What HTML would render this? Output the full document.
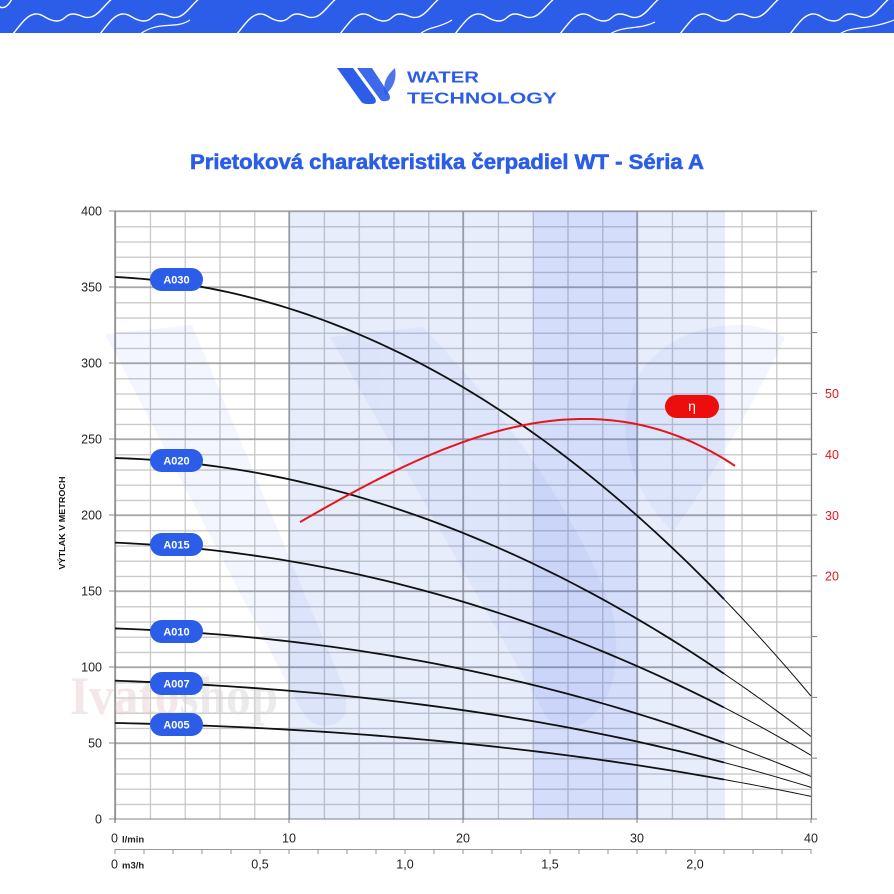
<!DOCTYPE html>
<html><head><meta charset="utf-8"><style>
html,body{margin:0;padding:0;background:#fff;}
svg{display:block;}
.sans{font-family:"Liberation Sans",sans-serif;}
</style></head><body>
<svg id="s" class="sans" width="894" height="894" viewBox="0 0 894 894" xmlns="http://www.w3.org/2000/svg" font-family="Liberation Sans, sans-serif">
<defs>
<pattern id="grid" x="115" y="211" width="34.8" height="15.2" patternUnits="userSpaceOnUse">
<path d="M0.6,0 V15.2 M0,0.6 H34.8" stroke="#c4c4c4" stroke-width="1.2" fill="none"/>
</pattern>
<path id="wv" d="M0,34 C8,24 14,15 22,14 C30,13 34,21 44,21 C52,21 52,14 60,14 C68,14 70,19 78,17 C86,15 92,4 100,-2" fill="none" stroke="#fff" stroke-width="1.4"/>
</defs>
<rect width="894" height="894" fill="#fff"/>
<!-- header -->
<rect x="0" y="0" width="894" height="33" fill="#2b5de8"/>
<path d="M-2,6 C4,10 8,6 12,-1" fill="none" stroke="#fff" stroke-width="1.4"/>
<use href="#wv" x="13" y="0"/>
<use href="#wv" x="100" y="0"/>
<use href="#wv" x="237" y="0"/>
<use href="#wv" x="340" y="0"/>
<use href="#wv" x="455" y="0"/>
<use href="#wv" x="560" y="0"/>
<use href="#wv" x="680" y="0"/>
<use href="#wv" x="790" y="0"/>
<path d="M140,34 C160,20 175,30 190,20 M420,34 C430,26 440,28 452,20 M610,34 C625,25 640,30 655,22 M840,34 C850,26 870,30 894,20" fill="none" stroke="#fff" stroke-width="1.2"/>

<!-- logo -->
<g fill="#2b5de8">
<path d="M337,68 L353,68 L375,98 Q378,104 371,104 L367,104 Q362,104 360,100 Z"/>
<path d="M357,68 L372,68 L389,94 Q392,100 386,101 Q381,102 379,98 Z" opacity="0.92"/>
<path d="M395,68 Q398,84 385,95 Q381,80 395,68 Z" opacity="0.85"/>
</g>
<text x="407" y="82.5" font-size="15.5" font-weight="bold" fill="#2b5de8" textLength="72" lengthAdjust="spacingAndGlyphs">WATER</text>
<text x="407" y="103.5" font-size="15.5" font-weight="bold" fill="#2b5de8" textLength="150" lengthAdjust="spacingAndGlyphs">TECHNOLOGY</text>

<!-- title -->
<text x="190" y="169" font-size="21.5" font-weight="bold" fill="#2b5de8" stroke="#2b5de8" stroke-width="0.6" textLength="514" lengthAdjust="spacingAndGlyphs">Prietoková charakteristika čerpadiel WT - Séria A</text>

<!-- grid -->
<rect x="115" y="211" width="696.6" height="608.6" fill="url(#grid)"/>
<path d="M289,211 V819 M463,211 V819 M637,211 V819 M115,211 H817 M115,287 H811 M115,363 H811 M115,439 H811 M115,515 H811 M115,591 H811 M115,667 H811 M115,743 H811 M115,819 H811" stroke="#8a8a8a" stroke-width="1.1" fill="none"/>
<path d="M115,210.5 V823 M811.5,211 V819" stroke="#7a7a7a" stroke-width="1.3" fill="none"/>
<path d="M109,211 H115 M109,287 H115 M109,363 H115 M109,439 H115 M109,515 H115 M109,591 H115 M109,667 H115 M109,743 H115 M109,819 H115" stroke="#8a8a8a" stroke-width="1.1"/>
<path d="M811,271.8 H817 M811,332.6 H817 M811,393.4 H817 M811,454.2 H817 M811,515 H817 M811,575.8 H817 M811,636.6 H817 M811,697.4 H817 M811,758.2 H817 M811,819 H817" stroke="#8a8a8a" stroke-width="1.1"/>
<path d="M289,819 V823 M463,819 V823 M637,819 V823 M811,819 V823" stroke="#8a8a8a" stroke-width="1.1"/>

<!-- shading -->
<rect x="289" y="211" width="436" height="608" fill="#2b5de8" opacity="0.11"/>
<rect x="533" y="211" width="104" height="608" fill="#2b5de8" opacity="0.1"/>
<!-- big W watermark -->
<g fill="#2b5de8" opacity="0.055">
<path d="M105,334 L192,325 L345,690 Q352,725 325,726 Q310,726 300,708 Z"/>
<path d="M330,337 L423,327 Q560,470 612,610 Q628,690 585,722 Q562,738 546,716 Z"/>
<path d="M785,338 C760,318 690,318 650,360 C610,405 620,480 673,532 C710,480 750,410 785,338 Z"/>
</g>

<!-- Ivatoshop watermark -->
<text x="70" y="714" style="font-family:'Liberation Serif',serif;" font-size="54" font-weight="bold" textLength="208" lengthAdjust="spacingAndGlyphs"><tspan fill="#e7c9c9" fill-opacity="0.45">Ivato</tspan><tspan fill="#d4d0d0" fill-opacity="0.45">shop</tspan></text>

<!-- second x axis -->
<path d="M115,849.5 H811" stroke="#9a9a9a" stroke-width="1.1"/>
<path id="mticks" stroke="#9a9a9a" stroke-width="1.1" fill="none" d=""/>

<g id="curves"></g>

<!-- pills -->
<g font-size="11" font-weight="bold" fill="#fff" text-anchor="middle">
<rect x="150" y="268" width="53" height="23" rx="11.5" fill="#2b5de8"/><text x="176.5" y="283.5">A030</text>
<rect x="150" y="449" width="53" height="23" rx="11.5" fill="#2b5de8"/><text x="176.5" y="464.5">A020</text>
<rect x="150" y="533" width="53" height="23" rx="11.5" fill="#2b5de8"/><text x="176.5" y="548.5">A015</text>
<rect x="150" y="620" width="53" height="23" rx="11.5" fill="#2b5de8"/><text x="176.5" y="635.5">A010</text>
<rect x="150" y="672" width="53" height="23" rx="11.5" fill="#2b5de8"/><text x="176.5" y="687.5">A007</text>
<rect x="150" y="713" width="53" height="23" rx="11.5" fill="#2b5de8"/><text x="176.5" y="728.5">A005</text>
<rect x="665" y="395" width="54" height="23" rx="11.5" fill="#ee0d0d"/><text x="692" y="411" font-size="14" font-weight="normal">η</text>
</g>

<!-- left labels -->
<g font-size="12.5" fill="#222" text-anchor="end">
<text x="102" y="215.5">400</text>
<text x="102" y="291.5">350</text>
<text x="102" y="367.5">300</text>
<text x="102" y="443.5">250</text>
<text x="102" y="519.5">200</text>
<text x="102" y="595.5">150</text>
<text x="102" y="671.5">100</text>
<text x="102" y="747.5">50</text>
<text x="102" y="823.5">0</text>
</g>
<text transform="translate(65,523) rotate(-90)" text-anchor="middle" font-size="8.5" font-weight="bold" fill="#111" textLength="93" lengthAdjust="spacingAndGlyphs">VÝTLAK V METROCH</text>

<!-- right labels -->
<g font-size="12.5" fill="#e8141c">
<text x="825" y="398">50</text>
<text x="825" y="459">40</text>
<text x="825" y="520">30</text>
<text x="825" y="580.5">20</text>
</g>

<!-- bottom labels -->
<g font-size="12.5" fill="#222">
<text x="111" y="842.5">0</text>
<text x="122" y="842.5" font-size="9.5" font-weight="bold">l/min</text>
<text x="289" y="842.5" text-anchor="middle">10</text>
<text x="463" y="842.5" text-anchor="middle">20</text>
<text x="637" y="842.5" text-anchor="middle">30</text>
<text x="811" y="842.5" text-anchor="middle">40</text>
<text x="111" y="868.5">0</text>
<text x="122" y="868.5" font-size="9.5" font-weight="bold">m3/h</text>
<text x="260" y="868.5" text-anchor="middle">0,5</text>
<text x="405" y="868.5" text-anchor="middle">1,0</text>
<text x="550" y="868.5" text-anchor="middle">1,5</text>
<text x="695" y="868.5" text-anchor="middle">2,0</text>
</g>
</svg>
<script>
(function(){
var NS="http://www.w3.org/2000/svg";
var d="";for(var k=0;k<=24;k++){var x=115+k*29;if(x>812)x=811;d+="M"+x.toFixed(1)+",849 V854 ";}
document.getElementById("mticks").setAttribute("d",d);
var X=function(q){return 115+q*17.4;},Y=function(h){return 819-h*1.52;};
function fit(pts,deg){
  var n=deg+1,A=[],b=[];
  for(var i=0;i<n;i++){A.push(new Array(n).fill(0));b.push(0);}
  pts.forEach(function(p){for(var i=0;i<n;i++){for(var j=0;j<n;j++)A[i][j]+=Math.pow(p[0],i+j);b[i]+=Math.pow(p[0],i)*p[1];}});
  for(var c=0;c<n;c++){var m=c;for(var r=c+1;r<n;r++)if(Math.abs(A[r][c])>Math.abs(A[m][c]))m=r;
    var t=A[c];A[c]=A[m];A[m]=t;t=b[c];b[c]=b[m];b[m]=t;
    for(var r=0;r<n;r++){if(r==c)continue;var f=A[r][c]/A[c][c];for(var k=c;k<n;k++)A[r][k]-=f*A[c][k];b[r]-=f*b[c];}}
  var co=[];for(var i=0;i<n;i++)co.push(b[i]/A[i][i]);
  return function(t){var s=0;for(var i=0;i<n;i++)s+=co[i]*Math.pow(t,i);return s;};
}
var C={
A030:[[0,356],[5,351],[10,337],[15,312],[20,283],[24,256],[30,200],[35,144],[40,81]],
A020:[[0,237],[5,234],[10,224],[15,207],[20,189],[25,162],[30,132],[35,96],[40,54]],
A015:[[0,181],[5,179],[10,170],[15,157.5],[20,143],[25,122.5],[30,101],[35,75],[40,41]],
A010:[[0,125],[5,123],[10,117],[15,108],[20,99],[25,85],[30,70],[35,50],[40,28]],
A007:[[0,90.5],[5,89],[10,85],[15,78.5],[20,71],[25,62],[30,50.7],[35,38.8],[40,20]],
A005:[[0,63],[5,62],[10,58.5],[15,54.5],[20,50],[25,43.5],[30,35.5],[35,25.7],[40,15]]
};
var g=document.getElementById("curves");
function add(dd,w,col){var e=document.createElementNS(NS,"path");e.setAttribute("d",dd);e.setAttribute("fill","none");e.setAttribute("stroke",col);e.setAttribute("stroke-width",w);e.setAttribute("stroke-linejoin","round");g.appendChild(e);}
for(var nme in C){
  var f=fit(C[nme].map(function(a){return [a[0]/40,a[1]];}),3);
  var d1="",d2="";
  for(var q=0;q<=35.001;q+=0.5){d1+=(q==0?"M":"L")+X(q).toFixed(2)+","+Y(f(q/40)).toFixed(2)+" ";}
  for(var q=35;q<=40.001;q+=0.5){d2+=(q==35?"M":"L")+X(q).toFixed(2)+","+Y(f(q/40)).toFixed(2)+" ";}
  add(d1,1.8,"#111");add(d2,1.0,"#111");
}
var r=[[300,523],[345,495.5],[400,468],[440,451],[480,437],[520,426.5],[560,420],[590,419],[620,421.5],[650,427],[680,436],[705,448],[737,468]];
var fr=fit(r.map(function(p){return [(p[0]-300)/437,p[1]];}),3);
var dr="";for(var x=300;x<=737.01;x+=3){dr+=(x==300?"M":"L")+x+","+fr((x-300)/437).toFixed(2)+" ";}
add(dr,2,"#e8141c");
})();
</script>
</body></html>
